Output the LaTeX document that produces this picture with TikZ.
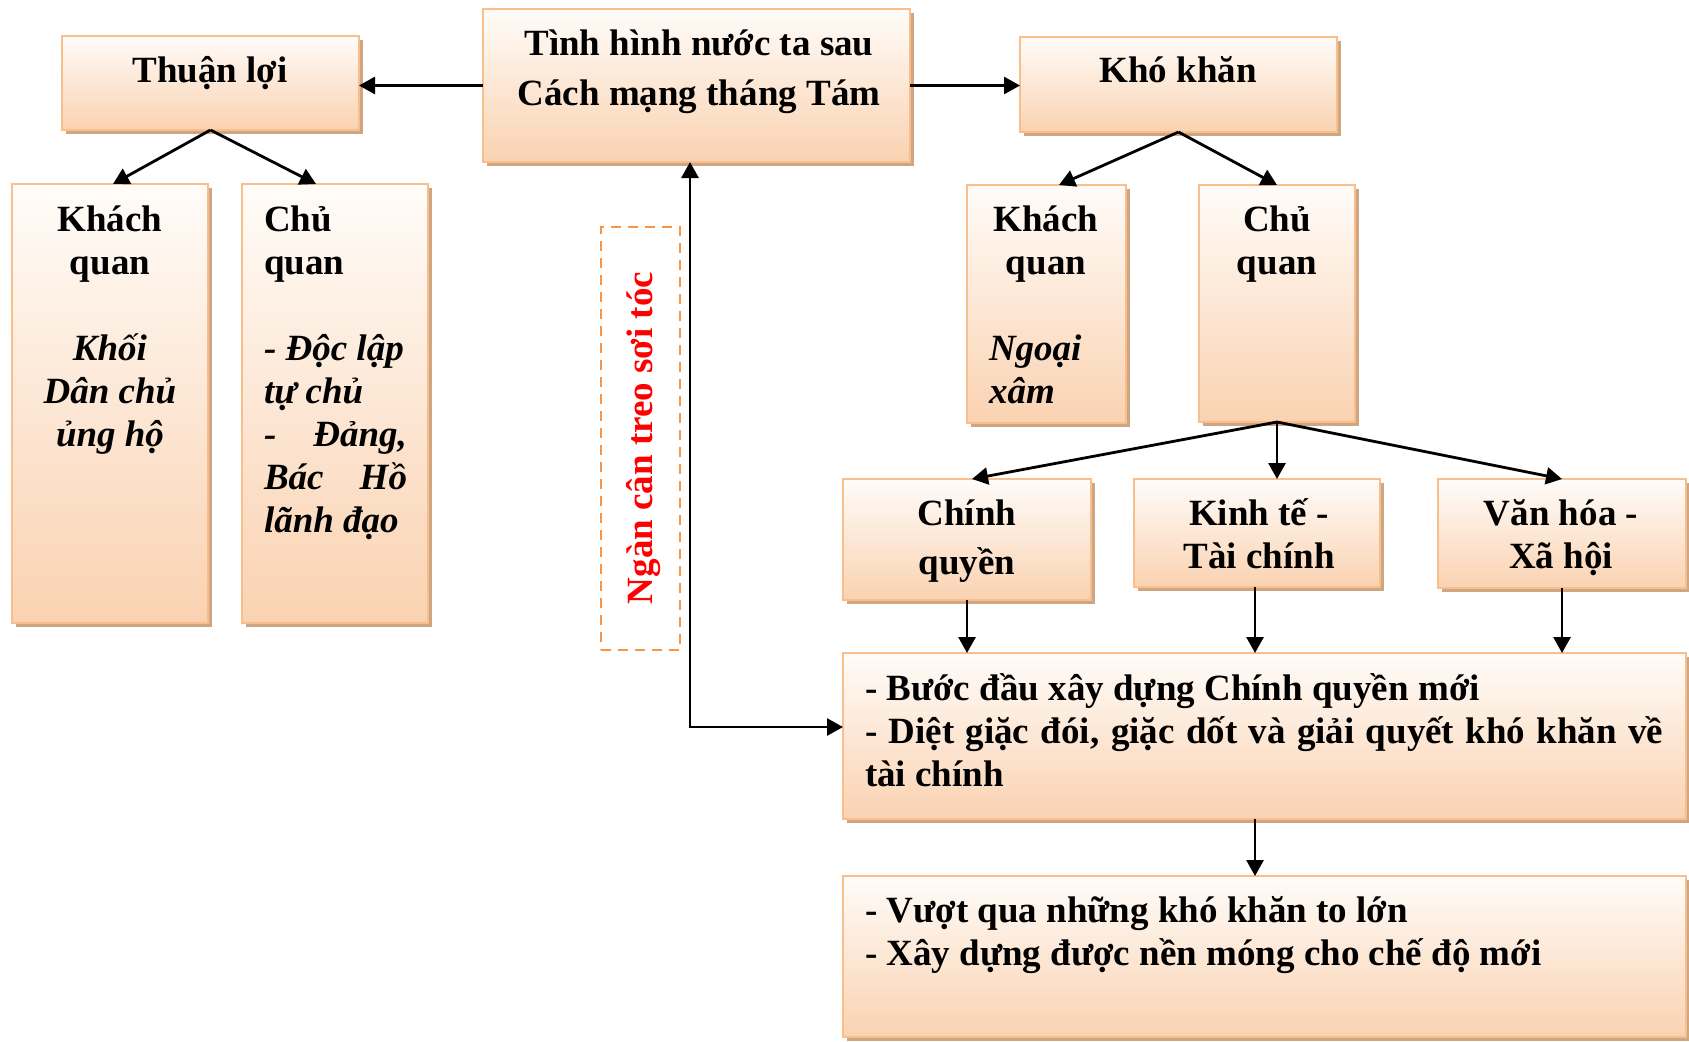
\documentclass[tikz,border=0pt]{standalone}
\usepackage{fontspec}
\setmainfont{Liberation Serif}
\usetikzlibrary{arrows.meta}
\definecolor{bordc}{HTML}{F8BE8C}
\definecolor{shadc}{HTML}{D0A582}
\definecolor{topc}{HTML}{FFFCF9}
\definecolor{midc}{HTML}{FBDCC2}
\definecolor{botc}{HTML}{FAD2B1}
\definecolor{dashc}{HTML}{F79646}
\definecolor{redc}{HTML}{FF0000}
\newcommand\fsz{\fontsize{18.5}{21.5}\selectfont}
\newcommand\bx[5]{%
  \fill[shadc] ({#2+4},{#3+4}) rectangle ({#4+4},{#5+4});
  \node[box,anchor=north west,minimum width={(#4-#2)*0.5pt},minimum height={(#5-#3)*0.5pt}] (#1) at (#2,#3) {};}
\newcommand\fullline[1]{\leavevmode\hbox to \linewidth{#1}}
\tikzset{
  box/.style={draw=bordc, line width=1pt, top color=topc, middle color=midc, bottom color=botc, inner sep=0pt, outer sep=0pt},
  txt/.style={inner sep=0pt, outer sep=0pt, font=\fsz\bfseries},
  arr/.style={line width=1.4pt, -{Triangle[length=8pt,width=8.5pt]}},
  darr/.style={line width=1.4pt, {Triangle[length=8pt,width=8.5pt]}-{Triangle[length=8pt,width=8.5pt]}},
}
\begin{document}
\begin{tikzpicture}[x=0.5pt,y=-0.5pt]
\useasboundingbox (0,0) rectangle (1689,1041);
% boxes
\bx{thuan}{62}{36}{359}{130}
\bx{tinh}{483}{9}{910}{162}
\bx{kk}{1020}{37}{1337}{132}
\bx{kq1}{12}{184}{208}{623}
\bx{cq1}{242}{184}{428}{623}
\bx{kq2}{967}{185}{1126}{423}
\bx{cq2}{1199}{185}{1355}{422}
\bx{chinh}{843}{479}{1091}{600}
\bx{kinhte}{1134}{479}{1380}{587}
\bx{vanhoa}{1438}{479}{1686}{588}
\bx{big1}{843}{653}{1686}{819}
\bx{big2}{843}{876}{1686}{1037}
% texts
\node[txt,anchor=base] (tthuan) at (210,82) {Thuận lợi};
\node[txt,anchor=base] (tkk) at (1178,82) {Khó khăn};
\node[txt,anchor=base] (ttinh) at (699,55) {\parbox[t]{200pt}{\centering\fontsize{18.5}{25}\selectfont Tình hình nước ta sau\\Cách mạng tháng Tám}};
\node[txt,anchor=base] (tkq1) at (110,231) {\parbox[t]{95pt}{\centering Khách\\quan\\\mbox{}\\\textit{Khối}\\\textit{Dân chủ}\\\textit{ủng hộ}}};
\node[txt,anchor=base west] (tcq1) at (264,231) {\parbox[t]{71.5pt}{\raggedright Chủ\\quan\\\mbox{}\\\itshape - Độc lập\\tự chủ\\\fullline{-\hfill Đảng,}\\\fullline{Bác\hfill Hồ}\\lãnh đạo}};
\node[txt,anchor=base] (tkq2) at (1046,231) {\parbox[t]{75pt}{\centering Khách\\quan}};
\node[txt,anchor=base west] (tnx) at (989,360) {\parbox[t]{60pt}{\raggedright\itshape Ngoại\\xâm}};
\node[txt,anchor=base] (tcq2) at (1277,231) {\parbox[t]{75pt}{\centering Chủ\\quan}};
\node[txt,anchor=base] (tchinh) at (967,525) {\parbox[t]{120pt}{\centering\fontsize{18.5}{24.5}\selectfont Chính\\quyền}};
\node[txt,anchor=base] (tkinhte) at (1259,525) {\parbox[t]{120pt}{\centering Kinh tế -\\Tài chính}};
\node[txt,anchor=base] (tvanhoa) at (1561,525) {\parbox[t]{120pt}{\centering Văn hóa -\\Xã hội}};
\node[txt,anchor=base west] (tbig1) at (865,700) {\parbox[t]{399pt}{\raggedright - Bước đầu xây dựng Chính quyền mới\\\fullline{- Diệt giặc đói, giặc dốt và giải quyết khó khăn về}\\tài chính}};
\node[txt,anchor=base west] (tbig2) at (865,922) {\parbox[t]{400pt}{\raggedright - Vượt qua những khó khăn to lớn\\- Xây dựng được nền móng cho chế độ mới}};
% red label
\node[draw=dashc, line width=1.1pt, dash pattern=on 5pt off 3.5pt, minimum width=39.5pt, minimum height=211.5pt, inner sep=0pt] (dbox) at (640.5,438.5) {};
\node[txt, text=redc, rotate=90] (ngan) at (644,438) {Ngàn cân treo sơi tóc};
% connectors
\draw[arr] (tinh.west) -- (tinh.west -| thuan.east);
\draw[arr] (tinh.east) -- (tinh.east -| kk.west);
\coordinate (t1) at (113,184);
\coordinate (t2) at (316,184);
\draw[arr] (thuan.south) -- (t1);
\draw[arr] (thuan.south) -- (t2);
\coordinate (t3) at (1059,185);
\draw[arr] (kk.south) -- (t3);
\draw[arr] (kk.south) -- (cq2.north);
\coordinate (t4) at (972,479);
\draw[arr] (cq2.south) -- (t4);
\draw[arr] (cq2.south) -- (cq2.south |- kinhte.north);
\draw[arr] (cq2.south) -- (vanhoa.north);
\draw[arr] (chinh.south) -- (chinh.south |- big1.north);
\coordinate (k1) at (1255,587);
\draw[arr] (k1) -- (k1 |- big1.north);
\draw[arr] (vanhoa.south) -- (vanhoa.south |- big1.north);
\coordinate (k2) at (1255,819);
\draw[arr] (k2) -- (k2 |- big2.north);
\coordinate (ex) at (690,162);
\coordinate (ent) at (843,727);
\draw[darr] (ex) |- (ent);
\end{tikzpicture}
\end{document}
